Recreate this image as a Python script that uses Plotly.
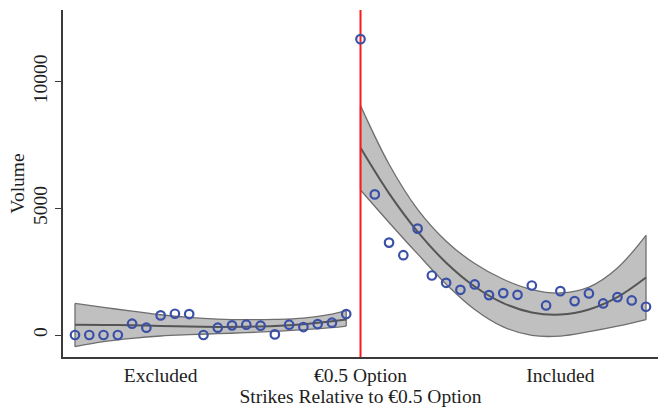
import plotly.graph_objects as go

# ---- data ----
strike_pos = [-20, -19, -18, -17, -16, -15, -14, -13, -12, -11, -10, -9, -8, -7, -6, -5, -4, -3, -2, -1,
              0,
              1, 2, 3, 4, 5, 6, 7, 8, 9, 10, 11, 12, 13, 14, 15, 16, 17, 18, 19, 20]
volume = [0, 0, 0, 0, 446, 289, 775, 840, 827, 0, 289, 381, 407, 367, 25, 407, 315, 433, 486, 827,
          11680,
          5551, 3648, 3150, 4200, 2350, 2060, 1785, 1995, 1575, 1654, 1588, 1955, 1168, 1732, 1338, 1640,
          1247, 1496, 1365, 1115]

# fitted curve and confidence band, excluded side
fit_x_left = [-20, -18, -16, -14, -12, -10, -8, -6, -4, -2, -1]
fit_left = [410, 395, 385, 360, 335, 320, 325, 355, 425, 540, 610]
upper_left = [1248, 1089, 945, 800, 696, 630, 604, 617, 669, 827, 958]
lower_left = [-459, -262, -131, -39, 13, 52, 92, 144, 210, 289, 354]

# fitted curve and confidence band, included side
fit_x_right = [0, 2, 4, 6, 8, 10, 12, 14, 16, 18, 20]
fit_right = [7390, 5593, 4081, 2855, 1915, 1260, 891, 808, 1010, 1498, 2272]
upper_right = [9055, 6743, 4961, 3705, 2820, 2200, 1796, 1658, 1890, 2648, 3937]
lower_right = [5725, 4443, 3201, 2005, 1010, 320, -14, -42, 130, 348, 607]

tick_vals = [-14, 0, 14]
tick_text = ["Excluded", "€0.5 Option", "Included"]
y_ticks = [0, 5000, 10000]
y_tick_text = ["0", "5000", "10000"]

x_range = [-20.84, 20.84]
y_range = [-868, 12830]
cutoff = 0

FONT = "Liberation Serif"
TXT = "#1e1e1e"
BAND_FILL = "#c0c0c0"
BAND_EDGE = "#6e6e6e"
FIT_COL = "#555555"
MARK_COL = "#3a4fa6"
FS = 19.5

fig = go.Figure()


def add_band(xs, lo, hi, fit):
    fig.add_trace(go.Scatter(x=xs, y=lo, mode="lines",
                             line=dict(color=BAND_EDGE, width=1.3, shape="spline"),
                             hoverinfo="skip"))
    fig.add_trace(go.Scatter(x=xs, y=hi, mode="lines", fill="tonexty", fillcolor=BAND_FILL,
                             line=dict(color=BAND_EDGE, width=1.3, shape="spline"),
                             hoverinfo="skip"))
    for i in (0, -1):
        fig.add_trace(go.Scatter(x=[xs[i], xs[i]], y=[lo[i], hi[i]], mode="lines",
                                 line=dict(color=BAND_EDGE, width=1.3), hoverinfo="skip"))
    fig.add_trace(go.Scatter(x=xs, y=fit, mode="lines",
                             line=dict(color=FIT_COL, width=2, shape="spline"),
                             hoverinfo="skip"))


add_band(fit_x_left, lower_left, upper_left, fit_left)
add_band(fit_x_right, lower_right, upper_right, fit_right)

# cutoff line
fig.add_trace(go.Scatter(x=[cutoff, cutoff], y=y_range, mode="lines",
                         line=dict(color="#ff1a1a", width=2), hoverinfo="skip"))

# observed volumes
fig.add_trace(go.Scatter(x=strike_pos, y=volume, mode="markers",
                         marker=dict(symbol="circle-open", size=8.5, color=MARK_COL,
                                     line=dict(width=2.2, color=MARK_COL))))

fig.update_layout(
    width=659, height=412,
    margin=dict(l=63, r=1, t=10, b=55, autoexpand=False),
    paper_bgcolor="white", plot_bgcolor="white",
    showlegend=False,
    font=dict(family=FONT, size=FS, color=TXT),
)
fig.update_xaxes(
    range=x_range, showgrid=False, zeroline=False, automargin=False,
    showline=True, linecolor="#3a3a3a", linewidth=1.5,
    tickmode="array", tickvals=tick_vals, ticktext=tick_text, ticks="",
    tickfont=dict(family=FONT, size=FS, color=TXT),
    title=dict(text="Strikes Relative to €0.5 Option", font=dict(family=FONT, size=FS, color=TXT),
               standoff=0),
)
fig.update_yaxes(
    range=y_range, showgrid=False, zeroline=False, automargin=False,
    showline=True, linecolor="#3a3a3a", linewidth=1.5,
    tickmode="array", tickvals=y_ticks, ticktext=y_tick_text,
    ticks="outside", ticklen=6, tickcolor="#3a3a3a",
    tickwidth=1.3, tickangle=-90,
    tickfont=dict(family=FONT, size=FS, color=TXT),
    title=dict(text="Volume", font=dict(family=FONT, size=FS, color=TXT), standoff=1),
)

fig.write_html("out.html", config={"displayModeBar": False},
               post_script="document.body.style.margin='0';")
